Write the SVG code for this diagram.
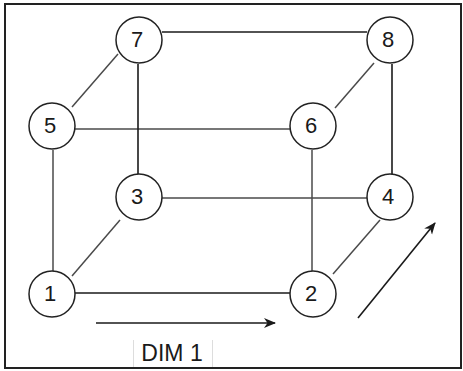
<svg xmlns="http://www.w3.org/2000/svg" width="463" height="371" viewBox="0 0 463 371">
<style>
.node circle{fill:#fff;stroke:#222;stroke-width:1.5}
.node text{font-family:"Liberation Sans",Arial,sans-serif;font-size:22px;fill:#1a1a1a;text-anchor:middle}
.e{stroke:#1a1a1a;stroke-width:1.6;fill:none}
.g{stroke:#4a4a4a;stroke-width:1.5;fill:none}
.lbl{font-family:"Liberation Sans",Arial,sans-serif;font-size:23px;fill:#1a1a1a;text-anchor:middle}
</style>
<defs>
<marker id="ah" viewBox="0 0 12 12" refX="11" refY="6" markerWidth="12" markerHeight="12" markerUnits="userSpaceOnUse" orient="auto">
<path d="M0,1 L12,6 L0,11 L3.5,6 Z" fill="#1a1a1a"/>
</marker>
</defs>
<rect x="5" y="4" width="456" height="364" fill="#fff" stroke="#222" stroke-width="2"/>
<g id="connectors">
<line class="e" x1="162" y1="32" x2="367" y2="32"/>
<line class="g" x1="75" y1="129" x2="290" y2="129"/>
<line class="g" x1="162" y1="198" x2="367" y2="198"/>
<line class="e" x1="75" y1="293" x2="290" y2="293"/>
<line class="g" x1="53" y1="150" x2="53" y2="271"/>
<line class="e" x1="138" y1="64" x2="138" y2="174"/>
<line class="g" x1="312" y1="150" x2="312" y2="271"/>
<line class="e" x1="392" y1="64" x2="392" y2="174"/>
<line class="g" x1="72" y1="107" x2="118" y2="54"/>
<line class="g" x1="335" y1="108" x2="374" y2="63"/>
<line class="g" x1="72" y1="276" x2="120" y2="220"/>
<line class="g" x1="333" y1="274" x2="380" y2="220"/>
<line class="e" x1="96" y1="323" x2="275" y2="323" marker-end="url(#ah)"/>
<line class="e" x1="358" y1="318" x2="435" y2="223" marker-end="url(#ah)"/>
</g>
<g id="n7" class="node"><circle cx="139" cy="40" r="23"/><text x="137" y="47">7</text></g>
<g id="n8" class="node"><circle cx="390" cy="40" r="23"/><text x="388" y="47">8</text></g>
<g id="n5" class="node"><circle cx="52" cy="126" r="23"/><text x="50" y="133">5</text></g>
<g id="n6" class="node"><circle cx="313" cy="126" r="23"/><text x="311" y="133">6</text></g>
<g id="n3" class="node"><circle cx="139" cy="197" r="23"/><text x="137" y="204">3</text></g>
<g id="n4" class="node"><circle cx="390" cy="197" r="23"/><text x="388" y="204">4</text></g>
<g id="n1" class="node"><circle cx="52" cy="294" r="23"/><text x="50" y="301">1</text></g>
<g id="n2" class="node"><circle cx="313" cy="294" r="23"/><text x="311" y="301">2</text></g>
<g id="dim1">
<line x1="133.5" y1="340" x2="133.5" y2="367" stroke="#ddd" stroke-width="1"/>
<line x1="212.5" y1="340" x2="212.5" y2="367" stroke="#ddd" stroke-width="1"/>
<text class="lbl" x="172" y="361">DIM 1</text>
</g>
</svg>
